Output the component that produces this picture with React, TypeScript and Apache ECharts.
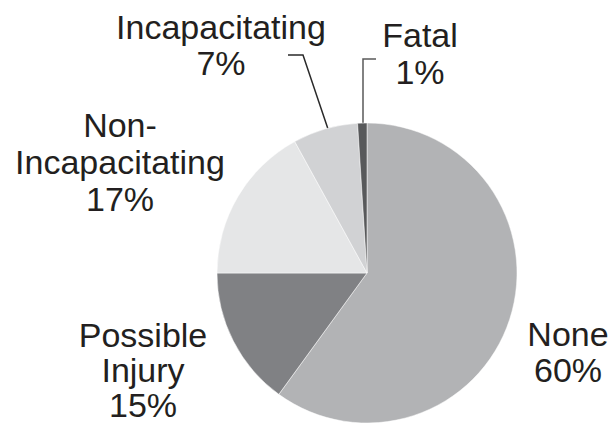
import React, { useEffect, useRef } from "react";
import * as echarts from "echarts";

const categories = ["None", "Possible Injury", "Non-Incapacitating", "Incapacitating", "Fatal"];
const labelTexts = ["None", "Possible\nInjury", "Non-\nIncapacitating", "Incapacitating", "Fatal"];
const values = [60, 15, 17, 7, 1];
const colors = ["#b2b3b5", "#808184", "#e5e6e7", "#d1d2d4", "#58595b"];

// label anchor (center x, top y, line height) per slice
const labelPos: [number, number, number][] = [
  [568, 316, 36],
  [143, 317, 35],
  [120, 106, 37],
  [221, 9, 36],
  [420, 16, 37],
];
const leaderLines: (number[][] | null)[] = [
  null,
  null,
  null,
  [[288, 55], [303, 55], [328, 129]],
  [[376, 59], [363, 59], [363, 123]],
];

export default function App() {
  const ref = useRef<HTMLDivElement>(null);
  useEffect(() => {
    document.body.style.margin = "0";
    const chart = echarts.init(ref.current!, undefined, { renderer: "svg" });
    chart.setOption({
      animation: false,
      backgroundColor: "#ffffff",
      series: [
        {
          type: "pie",
          center: [367, 273],
          radius: 150,
          startAngle: 90,
          clockwise: true,
          avoidLabelOverlap: false,
          itemStyle: { borderColor: "#ffffff", borderWidth: 0.5 },
          label: {
            show: true,
            position: "outside",
            color: "#231f20",
            fontSize: 34,
            lineHeight: 36,
            fontFamily: "Liberation Sans, Arial, Helvetica, sans-serif",
            align: "center",
            formatter: (p: any) => labelTexts[p.dataIndex] + "\n" + p.value + "%",
          },
          labelLine: { show: true, lineStyle: { width: 1.5 } },
          labelLayout: (params: any) => {
            const i = params.dataIndex;
            const res: any = {
              x: labelPos[i][0],
              y: labelPos[i][1],
              align: "center",
              verticalAlign: "top",
            };
            if (leaderLines[i]) res.labelLinePoints = leaderLines[i];
            return res;
          },
          data: categories.map((c, i) => ({
            name: c,
            value: values[i],
            itemStyle: { color: colors[i] },
            label: { lineHeight: labelPos[i][2] },
            labelLine: leaderLines[i]
              ? { show: true, lineStyle: { color: i === 4 ? "#5a5a5a" : "#2a2a2a", width: 1.5 } }
              : { show: false },
          })),
        },
      ],
    });
    return () => chart.dispose();
  }, []);
  return <div ref={ref} style={{ width: 610, height: 423 }} />;
}
